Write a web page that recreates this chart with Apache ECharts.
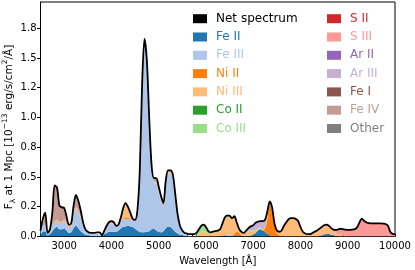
<!DOCTYPE html>
<html><head><meta charset="utf-8">
<script src="https://cdn.jsdelivr.net/npm/echarts@6/dist/echarts.min.js"></script>
<style>html,body{margin:0;padding:0;background:#fff}#c{width:415px;height:270px}</style>
</head><body><div id="c"></div>
<script>
const FONT = 'DejaVu Sans';
const WL_MIN = 2500, WL_MAX = 10000, STEP = 50;
const wavelengths = [];
for (let w = WL_MIN; w <= WL_MAX; w += STEP) wavelengths.push(w);

const xTickLabels = [3000, 4000, 5000, 6000, 7000, 8000, 9000, 10000];
const yTickValues = [0, 0.25, 0.5, 0.75, 1.0, 1.25, 1.5, 1.75];
const yTickLabels = ['0.0', '0.2', '0.5', '0.8', '1.0', '1.2', '1.5', '1.8'];

// Net spectrum on the 50 Å grid (2500..10000)
const net = [
  0.05,0.15,0.20,0.03,0.06,0.20,0.43,0.41,0.26,0.245,
  0.24,0.17,0.10,0.11,0.26,0.35,0.30,0.22,0.12,0.06,
  0.04,0.03,0.03,0.03,0.035,0.035,0.01,0.05,0.09,0.12,
  0.13,0.12,0.09,0.10,0.16,0.24,0.28,0.25,0.20,0.15,
  0.14,0.22,0.55,1.28,1.66,1.48,1.00,0.60,0.49,0.49,
  0.42,0.34,0.28,0.47,0.555,0.555,0.52,0.36,0.19,0.09,
  0.05,0.03,0.025,0.02,0.02,0.02,0.03,0.06,0.09,0.10,
  0.08,0.045,0.035,0.04,0.045,0.05,0.06,0.11,0.16,0.175,
  0.175,0.155,0.17,0.12,0.065,0.04,0.03,0.05,0.07,0.085,
  0.095,0.115,0.125,0.13,0.13,0.14,0.21,0.295,0.245,0.11,
  0.05,0.04,0.05,0.09,0.12,0.145,0.155,0.155,0.148,0.13,
  0.08,0.04,0.025,0.02,0.02,0.03,0.04,0.05,0.065,0.08,
  0.095,0.10,0.09,0.07,0.058,0.055,0.06,0.065,0.062,0.058,
  0.056,0.056,0.057,0.062,0.078,0.12,0.15,0.13,0.118,0.112,
  0.11,0.11,0.11,0.11,0.11,0.108,0.105,0.09,0.04,0.022,0.02
];

// Species contributions: [start wavelength, values every 50 Å]
const feII = [
  [2500, [0.02,0.04,0.045,0.01,0.02,0.045,0.07,0.08,0.06,0.06,0.07,0.05,0.03,0.035,0.07,0.09,0.07,0.045,0.03,0.015,
          0.01,0.005,0.005,0.003,0.003,0.002,0,0.02,0.03,0.04,0.04,0.04,0.04,0.05,0.07,0.08,0.085,0.09,0.085,0.08,
          0.065,0.05,0.04,0.035,0.035,0.04,0.045,0.06,0.065,0.05,0.04,0.035,0.045,0.07,0.085,0.08,0.06,0.04,0.025,0.015,
          0.01,0.005,0.003]],
  [6300, [0.005,0.008,0.008,0.006,0.005,0.005,0.005,0.005,0.003,0.002,0.002,0.003,0.005,0.008,0.015,0.03,0.05,0.06,0.05,0.04,0.02,0.01,0.005,0.003]],
  [8400, [0.005,0.01,0.015,0.02,0.02,0.015,0.01,0.005]]
];
const feIII = [
  [2500, [0.02,0.05,0.055,0.015,0.02,0.045,0.05,0.055,0.055,0.06,
          0.065,0.05,0.045,0.045,0.11,0.145,0.13,0.11,0.065,0.035,
          0.025,0.015,0.015,0.015,0.015,0.012,0,0.028,0.05,0.06,
          0.07,0.06,0.043,0.038,0.052,0.065,0.06,0.06,0.06,0.052,
          0.067,0.164,0.502,1.237,1.617,1.429,0.942,0.515,0.385,0.395,
          0.335,0.265,0.20,0.375,0.445,0.45,0.44,0.31,0.161,0.075,
          0.03,0.015,0.008,0.005,0.004,0.003,0.002]]
];
const niII = [
  [2800, [0.003,0.003,0.003,0.003,0.003,0.003,0.003,0.003,0.003,0.003,0.003]],
  [4200, [0.005,0.005,0.01,0.01,0.005]],
  [6600, [0.02,0.035,0.03,0.01]],
  [7250, [0.03,0.13,0.26,0.22,0.09,0.03,0.01,0.003]]
];
const niIII = [
  [2750, [0.005,0.01,0.01,0.01,0.01,0.01,0.01,0.005,0.005,0.01,0.01,0.01,0.01,0.005]],
  [3900, [0.005,0.01,0.01,0.01,0.005,0.01,0.03,0.08,0.11,0.08,0.045,0.015,0.005,0.003,0.003,0.003,0.003,0.003,0.003,
          0.005,0.01,0.01,0.01,0.005,0.005,0.01,0.015,0.015,0.01,0.005,0.002]],
  [5800, [0.005,0.02,0.04,0.045,0.035,0.02,0.02,0.03,0.035,0.04,
          0.05,0.09,0.14,0.155,0.16,0.14,0.14,0.08,0.03,0.025,
          0.02,0.03,0.035,0.035,0.03,0.02,0.01,0.01,0.01,0.01,
          0.02,0.02,0.02,0.015,0.015,0.025,0.045,0.085,0.115,0.14,
          0.15,0.15,0.143,0.125,0.072,0.035,0.02,0.015,0.015,0.025,
          0.035,0.045,0.055,0.065,0.075,0.075,0.065,0.045,0.03,0.025,
          0.02,0.015,0.01,0.008,0.005,0.003,0.002]]
];
const coII = [];
const coIII = [
  [5800, [0.01,0.035,0.045,0.05,0.04,0.02,0.01,0.005,0.005,0.005,0.005,0.01,0.01,0.012,0.01,0.01,0.005,0.003,0,0,
          0.003,0.005,0.008,0.008,0.008,0.007,0.005,0.005,0.005,0.003]]
];
const sII = [
  [2800, [0.005,0.005,0.005,0.005,0.005,0.005]],
  [3200, [0.005,0.005,0.005]],
  [3950, [0.005,0.005,0.005]],
  [4250, [0.005,0.005]]
];
const sIII = [
  [8600, [0.005,0.01,0.018,0.025,0.038,0.048,0.05,0.048,0.049,0.051,0.053,0.06,0.076,0.118,0.148,0.128,0.116,0.11,
          0.108,0.108,0.108,0.108,0.108,0.106,0.103,0.088,0.038,0.02,0.018]]
];
const arII = [[7200, [0.005,0.005,0.003]]];
const arIII = [[6800, [0.005,0.01,0.02,0.033,0.04,0.055,0.058,0.055,0.06,0.05,0.035,0.005]]];
const feI = [[2850, [0.003,0.003]]];
const feIV = [
  [2500, [0.01,0.06,0.10,0.005,0.02,0.105,0.29,0.26,0.13,0.11,0.09,0.05,0.02,0.02,0.06,0.095,0.08,0.055,0.02,0.01,0.005]],
  [3900, [0.005,0.005,0.005,0.005,0.002,0.002,0.003,0.005,0.01,0.01,0.005,0.003,0.003,0.003,0.005,0.005,0.005,0.008,
          0.01,0.02,0.03,0.035,0.035,0.035,0.03,0.015,0.01,0.01,0.01,0.005,0.002]]
];
const other = [];

const speciesNames = ['Fe II','Fe III','Ni II','Ni III','Co II','Co III','S II','S III','Ar II','Ar III','Fe I','Fe IV','Other'];
const speciesColors = ['#1f77b4','#aec7e8','#ff7f0e','#ffbb78','#2ca02c','#98df8a','#d62728','#ff9896','#9467bd','#c5b0d5','#8c564b','#c49c94','#7f7f7f'];
const speciesData = [feII, feIII, niII, niIII, coII, coIII, sII, sIII, arII, arIII, feI, feIV, other];

function onGrid(segs) {
  const a = new Array(wavelengths.length).fill(0);
  segs.forEach(([from, vals]) => {
    const i0 = Math.round((from - WL_MIN) / STEP);
    vals.forEach((v, k) => { a[i0 + k] = v; });
  });
  return a;
}

const SMOOTH = 0.3;
const series = speciesNames.map((name, s) => ({
  name, type: 'line', stack: 'spec', smooth: SMOOTH, symbol: 'none', silent: true,
  data: onGrid(speciesData[s]),
  lineStyle: { width: 0 },
  itemStyle: { color: speciesColors[s] },
  areaStyle: { color: speciesColors[s], opacity: 1 },
  z: 2
}));
series.push({
  name: 'Net spectrum', type: 'line', smooth: SMOOTH, symbol: 'none', silent: true,
  data: net,
  lineStyle: { color: '#000', width: 1.8 },
  itemStyle: { color: '#000' },
  z: 5
});

function legendItems(names) {
  return names.map(n => {
    const c = n === 'Net spectrum' ? '#000' : speciesColors[speciesNames.indexOf(n)];
    return { name: n, textStyle: { color: c, fontSize: 12, fontFamily: FONT, lineHeight: 14, padding: [0, 0, 0, 4] } };
  });
}
const legendBase = {
  orient: 'vertical', top: 11.7, padding: 0, itemWidth: 14, itemHeight: 9, itemGap: 4.3,
  icon: 'rect', selectedMode: false, itemStyle: { borderWidth: 0 },
  textStyle: { fontSize: 12, fontFamily: FONT, lineHeight: 14, padding: [0, 0, 0, 4] }
};

const chart = echarts.init(document.getElementById('c'), null, { renderer: 'canvas' });
chart.setOption({
  animation: false,
  textStyle: { fontFamily: FONT },
  grid: { left: 40.5, right: 20, top: 2, bottom: 33.5, show: true, borderColor: '#000', borderWidth: 1, containLabel: false, outerBoundsMode: 'none' },
  xAxis: {
    type: 'category', data: wavelengths, boundaryGap: false,
    axisLine: { show: true, onZero: false, lineStyle: { color: '#000', width: 1 } },
    axisTick: { show: true, inside: true, length: 2.5, lineStyle: { color: '#000', width: 1 },
      interval: (i) => wavelengths[i] % 100 === 0 },
    axisLabel: {
      interval: (i, v) => xTickLabels.indexOf(Number(v)) >= 0,
      formatter: v => String(v), margin: 5, fontSize: 10, color: '#000', fontFamily: FONT
    },
    splitLine: { show: false },
    name: 'Wavelength [Å]', nameLocation: 'middle', nameGap: 11,
    nameTextStyle: { fontSize: 10, color: '#000', fontFamily: FONT }
  },
  yAxis: {
    type: 'value', min: 0, max: 1.97, interval: 0.25,
    axisLine: { show: true, lineStyle: { color: '#000', width: 1 } },
    axisTick: { show: true, inside: false, length: 3.5, lineStyle: { color: '#000', width: 1 }, customValues: yTickValues },
    axisLabel: {
      customValues: yTickValues, margin: 4, fontSize: 10, color: '#000', fontFamily: FONT,
      formatter: v => { const i = yTickValues.findIndex(t => Math.abs(t - v) < 1e-9); return i >= 0 ? yTickLabels[i] : ''; }
    },
    splitLine: { show: false }
  },
  legend: [
    Object.assign({}, legendBase, { left: 193, data: legendItems(['Net spectrum','Fe II','Fe III','Ni II','Ni III','Co II','Co III']) }),
    Object.assign({}, legendBase, { left: 327, data: legendItems(['S II','S III','Ar II','Ar III','Fe I','Fe IV','Other']) })
  ],
  graphic: [{
    type: 'text', x: 9, y: 127, rotation: Math.PI / 2, silent: true,
    style: {
      text: '{b|F}{s|λ}{b| at 1 Mpc [10}{p|−13}{b| erg/s/cm}{p|2}{b|/Å]}',
      align: 'center', verticalAlign: 'middle', textAlign: 'center', textVerticalAlign: 'middle',
      fill: '#000',
      rich: {
        b: { fontSize: 10.5, fontFamily: FONT, fill: '#000', lineHeight: 16, verticalAlign: 'middle' },
        s: { fontSize: 7.5, fontFamily: FONT, fill: '#000', lineHeight: 9, verticalAlign: 'bottom' },
        p: { fontSize: 7.5, fontFamily: FONT, fill: '#000', lineHeight: 9, verticalAlign: 'top' }
      }
    }
  }],
  series
});
</script></body></html>
